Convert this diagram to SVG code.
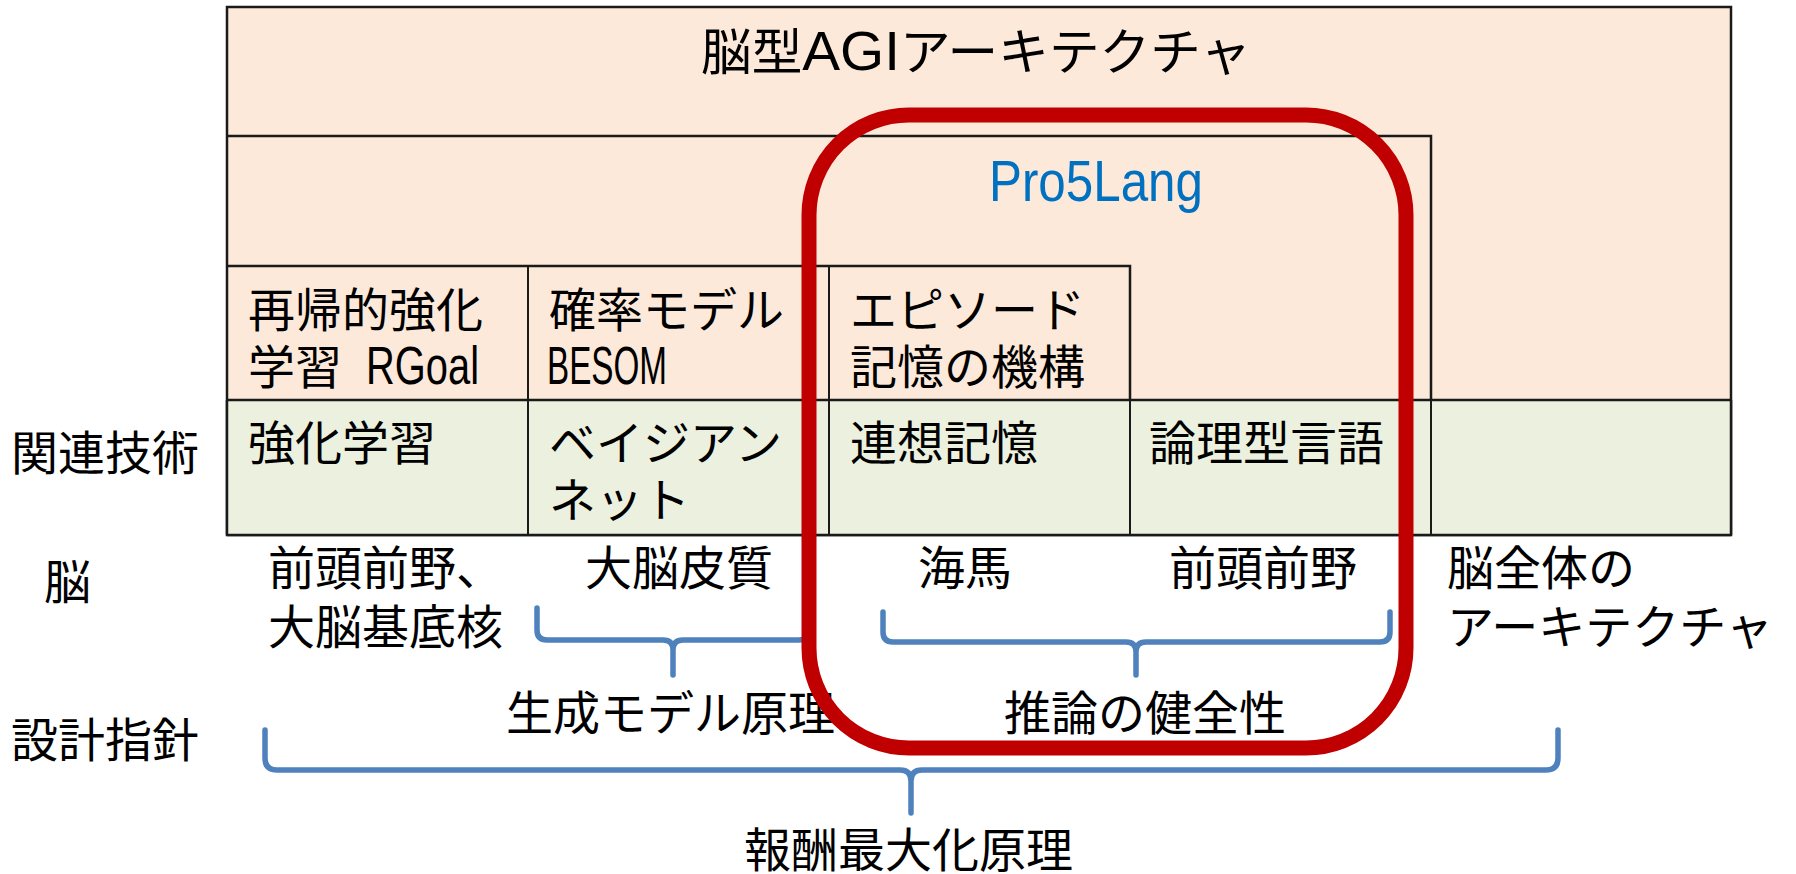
<svg xmlns="http://www.w3.org/2000/svg" width="1796" height="874" viewBox="0 0 1796 874">
<style>
.t{font-family:"Liberation Sans","Noto Sans CJK JP",sans-serif;font-size:47px;fill:#000}
.lat{font-size:53px}
.ln{stroke:#1a1a1a;stroke-width:2.5;fill:none}
.ln2{stroke:#1a1a1a;stroke-width:2;fill:none}
.peach{fill:#FDE9D9}
.green{fill:#EBF1DE}
.br{stroke:#4F81BD;stroke-width:5.5;fill:none;stroke-linecap:round;stroke-linejoin:round}
</style>
<rect width="1796" height="874" fill="#fff"/>
<g id="agi-architecture">
<rect x="227" y="7" width="1504" height="528" class="peach"/>
<rect x="227" y="7" width="1504" height="528" class="ln"/>
<text class="t" x="701" y="70" style="font-size:50px" textLength="550" lengthAdjust="spacingAndGlyphs">脳型<tspan style="font-size:56px">AGI</tspan>アーキテクチャ</text>
</g>
<g id="pro5lang">
<path class="ln" d="M227 136 H1431 V535"/>
<text x="989" y="201" style="font-family:'Liberation Sans','Noto Sans CJK JP',sans-serif;font-size:57px;fill:#0070C0" textLength="214" lengthAdjust="spacingAndGlyphs">Pro5Lang</text>
</g>
<g id="cells-row1">
<path class="ln" d="M227 266 H1130 V400"/>
<path class="ln2" d="M528 266 V400 M829 266 V400"/>
</g>
<g id="rgoal">
<text class="t" x="248" y="327">再帰的強化</text>
<text class="t" x="248" y="384">学習 <tspan x="366" y="384" class="lat" textLength="113" lengthAdjust="spacingAndGlyphs">RGoal</tspan></text>
</g>
<g id="besom">
<text class="t" x="549" y="327">確率モデル</text>
<text class="t lat" x="547" y="384" textLength="120" lengthAdjust="spacingAndGlyphs">BESOM</text>
</g>
<g id="episode">
<text class="t" x="850" y="327">エピソード</text>
<text class="t" x="850" y="384">記憶の機構</text>
</g>
<g id="related-tech-row">
<rect x="227" y="400" width="1504" height="135" class="green"/>
<path class="ln" d="M227 400 H1731 M227 535 H1731 M227 400 V535 M1731 400 V535"/>
<path class="ln2" d="M528 400 V535 M829 400 V535 M1130 400 V535 M1431 400 V535"/>
<text class="t" x="248" y="460">強化学習</text>
<text class="t" x="549" y="460">ベイジアン</text>
<text class="t" x="549" y="517">ネット</text>
<text class="t" x="850" y="460">連想記憶</text>
<text class="t" x="1149" y="460">論理型言語</text>
</g>
<g id="row-labels">
<text class="t" x="11" y="470">関連技術</text>
<text class="t" x="44" y="599">脳</text>
<text class="t" x="11" y="757">設計指針</text>
</g>
<g id="brain-labels">
<text class="t" x="268" y="585">前頭前野、</text>
<text class="t" x="268" y="644">大脳基底核</text>
<text class="t" x="585" y="585">大脳皮質</text>
<text class="t" x="918" y="585">海馬</text>
<text class="t" x="1169" y="585">前頭前野</text>
<text class="t" x="1447" y="585">脳全体の</text>
<text class="t" x="1447" y="644">アーキテクチャ</text>
</g>
<g id="connectors">
<path class="br" d="M537 608 V630 Q537 640 547 640 H663 Q673 640 673 650 V675 M673 650 Q673 640 683 640 H799 Q809 640 809 630 V608"/>
<path class="br" d="M883 612 V632 Q883 642 893 642 H1126 Q1136 642 1136 652 V675 M1136 652 Q1136 642 1146 642 H1380 Q1390 642 1390 632 V612"/>
<path class="br" d="M265 730 V758 Q265 770 277 770 H900 Q911 770 911 781 V813 M911 781 Q911 770 922 770 H1546 Q1558 770 1558 758 V730"/>
</g>
<g id="principles">
<text class="t" x="506" y="730">生成モデル原理</text>
<text class="t" x="1004" y="730">推論の健全性</text>
<text class="t" x="744" y="867">報酬最大化原理</text>
</g>
<g id="highlight">
<rect x="809" y="115" width="597" height="633" rx="100" ry="100" fill="none" stroke="#C00000" stroke-width="15"/>
</g>
</svg>
